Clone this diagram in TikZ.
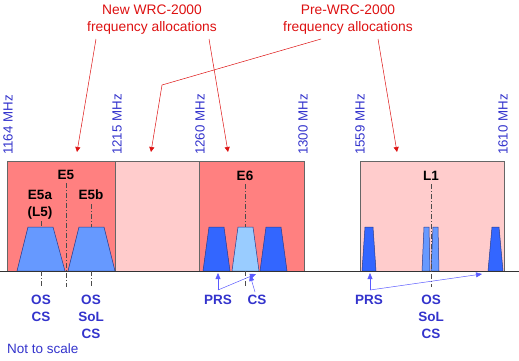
\documentclass[tikz,border=0pt]{standalone}
\usepackage{fontspec}
\setmainfont{Liberation Sans}
\usetikzlibrary{arrows.meta}
\definecolor{bandred}{RGB}{255,128,128}
\definecolor{bandpink}{RGB}{255,204,204}
\definecolor{darkblue}{RGB}{51,102,255}
\definecolor{midblue}{RGB}{102,153,255}
\definecolor{lightblue}{RGB}{153,204,255}
\definecolor{txtblue}{RGB}{51,51,204}
\definecolor{txtred}{RGB}{221,17,17}
\definecolor{arrblue}{RGB}{90,90,255}
\tikzset{
  band/.style={draw=gray!80!black,line width=0.6pt},
  sig/.style={draw={rgb,255:red,40;green,60;blue,140},line width=0.5pt},
  ctr/.style={draw=gray!60!black,line width=0.6pt,dash pattern=on 5pt off 2pt on 1pt off 2pt},
  freq/.style={text=txtblue,font=\fontsize{13.3}{15}\selectfont,rotate=90,anchor=west,inner sep=0pt},
  blab/.style={text=black,font=\bfseries\fontsize{13.5}{15}\selectfont,inner sep=0pt},
  svc/.style={text=txtblue,font=\bfseries\fontsize{13.5}{17}\selectfont,align=center,inner sep=0pt},
  ttl/.style={text=txtred,font=\fontsize{13.8}{17}\selectfont,align=center,inner sep=0pt},
  rarr/.style={draw=txtred,line width=0.5pt,-{Triangle[length=5pt,width=5pt]}},
  barr/.style={draw=arrblue,line width=0.5pt,-{Triangle[length=6pt,width=5pt]}},
}
\newcommand\mytrap[5]{\filldraw[fill=#1,sig] (#2,271) -- (#3,227) -- (#4,227) -- (#5,271) -- cycle;}
\begin{document}
\begin{tikzpicture}[x=1pt,y=-1pt]
\useasboundingbox (0,0) rectangle (519,360);
% bands
\filldraw[fill=bandred,band] (7,161) rectangle (115,271);
\filldraw[fill=bandpink,band] (115,161) rectangle (199,271);
\filldraw[fill=bandred,band] (199,161) rectangle (304,271);
\filldraw[fill=bandpink,band] (360,161) rectangle (504,271);
% signals
\mytrap{midblue}{17}{28}{53}{65}
\mytrap{midblue}{68}{79}{104}{115}
\mytrap{darkblue}{203}{209}{224}{230}
\mytrap{lightblue}{232}{238}{253}{259}
\mytrap{darkblue}{260}{266}{281}{287}
\mytrap{darkblue}{362}{365}{373}{376}
\mytrap{midblue}{422}{424}{429}{430}
\mytrap{midblue}{431}{433}{438}{439}
\mytrap{darkblue}{488}{492}{499}{503}
% baseline
\draw[line width=0.8pt,draw=black!80] (0,271) -- (519,271);
% centre lines
\draw[ctr] (66,183) -- (66,287);
\draw[ctr] (41,221) -- (41,227);
\draw[ctr] (41,271) -- (41,287);
\draw[ctr] (91,204) -- (91,227);
\draw[ctr] (91,271) -- (91,287);
\draw[ctr] (245,184) -- (245,227);
\draw[ctr] (245,271) -- (245,287);
\draw[ctr] (431,184) -- (431,287);
% band labels
\node[blab] (e5) at (66,175) {E5};
\node[blab] (e5a) at (40,195) {E5a};
\node[blab] (l5) at (40,213) {(L5)};
\node[blab] (e5b) at (91,195) {E5b};
\node[blab] (e6) at (245,176) {E6};
\node[blab] (l1) at (431,176) {L1};
% frequency labels
\node[freq] (f1164) at (8,155) {1164 MHz};
\node[freq] (f1215) at (117,155) {1215 MHz};
\node[freq] (f1260) at (200,155) {1260 MHz};
\node[freq] (f1300) at (303,155) {1300 MHz};
\node[freq] (f1559) at (360,155) {1559 MHz};
\node[freq] (f1610) at (503,155) {1610 MHz};
% titles
\node[ttl] (newt) at (152,20) {New WRC-2000\\frequency allocations};
\node[ttl] (pret) at (348,20) {Pre-WRC-2000\\frequency allocations};
\coordinate (n1s) at (96,39);
\coordinate (n1e) at (77,152);
\coordinate (n2s) at (209,39);
\coordinate (n2e) at (228,152);
\coordinate (p1s) at (321,39);
\coordinate (p1m) at (162,85);
\coordinate (p1e) at (151,152);
\coordinate (p2s) at (378,39);
\coordinate (p2e) at (397,152);
\draw[rarr] (n1s) -- (n1e);
\draw[rarr] (n2s) -- (n2e);
\draw[rarr] (p1s) -- (p1m) -- (p1e);
\draw[rarr] (p2s) -- (p2e);
% service labels
\node[svc] (s5a) at (41,308.5) {OS\\CS};
\node[svc] (s5b) at (91,317) {OS\\SoL\\CS};
\node[svc] (prs6) at (218,300) {PRS};
\node[svc] (cs6) at (257,300) {CS};
\node[svc] (prs1) at (369,300) {PRS};
\node[svc] (s1) at (431,317) {OS\\SoL\\CS};
\node[text=txtblue,font=\fontsize{13.5}{15}\selectfont,anchor=west,inner sep=0pt] (nts) at (7,349) {Not to scale};
% blue arrows
\coordinate (pr6) at (218,290);
\coordinate (t6a) at (218,273);
\coordinate (t6b) at (256,274);
\coordinate (c6s) at (255,292);
\coordinate (c6e) at (250,275);
\draw[barr] (pr6) -- (t6a);
\draw[barr] (pr6) -- (t6b);
\draw[barr] (c6s) -- (c6e);
\coordinate (pr1) at (370,290);
\coordinate (t1a) at (370,273);
\coordinate (t1b) at (482,274);
\draw[barr] (pr1) -- (t1a);
\draw[barr] (pr1) -- (t1b);
\end{tikzpicture}
\end{document}
